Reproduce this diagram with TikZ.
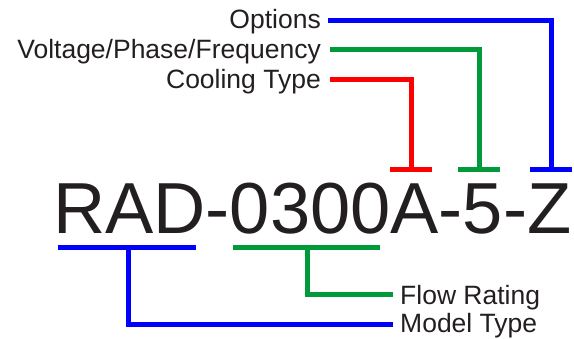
\documentclass[tikz,border=0pt]{standalone}
\usepackage{fontspec}
\setmainfont{Liberation Sans}
\usetikzlibrary{calc}
\definecolor{txt}{HTML}{231F20}
\definecolor{cblue}{HTML}{0000FF}
\definecolor{cgreen}{HTML}{009A3A}
\definecolor{cred}{HTML}{FF0000}
\tikzset{
  lbl/.style={inner sep=0pt, text=txt, font=\fontsize{26.5}{26.5}\selectfont},
  code/.style={inner sep=0pt, text=txt, font=\fontsize{72.3}{72.3}\selectfont},
  conn/.style={line width=5pt, line join=miter, line cap=butt}
}
\begin{document}
\begin{tikzpicture}[x=1pt,y=-1pt]
\useasboundingbox (0,0) rectangle (574,339);
% labels
\node[lbl, anchor=base east] (opt) at (321,29) {Options};
\node[lbl, anchor=base east] (vpf) at (321,59) {Voltage/Phase/Frequency};
\node[lbl, anchor=base east] (cool) at (321,89) {Cooling Type};
\node[lbl, anchor=base west] (flow) at (400,305) {Flow Rating};
\node[lbl, anchor=base west] (model) at (400,333) {Model Type};
\node[code, anchor=base west] (code) at (53,234) {RAD-0300A-5-Z};
% T-bar end coordinates
\coordinate (tO) at (551,170);
\coordinate (tV) at (479,170);
\coordinate (tC) at (411,170);
% top connectors
\draw[conn, cblue] ($(opt.base east)+(7,-8)$) -| (tO);
\draw[conn, cblue] ($(tO)+(-21,0)$) -- ($(tO)+(21,0)$);
\draw[conn, cgreen] ($(vpf.base east)+(9,-9)$) -| (tV);
\draw[conn, cgreen] ($(tV)+(-21,0)$) -- ($(tV)+(21,0)$);
\draw[conn, cred] ($(cool.base east)+(9,-9)$) -| (tC);
\draw[conn, cred] ($(tC)+(-21,0)$) -- ($(tC)+(21,0)$);
% bottom connectors
\coordinate (uB) at (128,248);
\coordinate (uG) at (307,248);
\draw[conn, cblue] (58,248) -- (196,248);
\draw[conn, cgreen] (233,248) -- (380,248);
\draw[conn, cblue] (uB) |- ($(model.base west)+(-7,-8)$);
\draw[conn, cgreen] (uG) |- ($(flow.base west)+(-7,-10)$);
\end{tikzpicture}
\end{document}
